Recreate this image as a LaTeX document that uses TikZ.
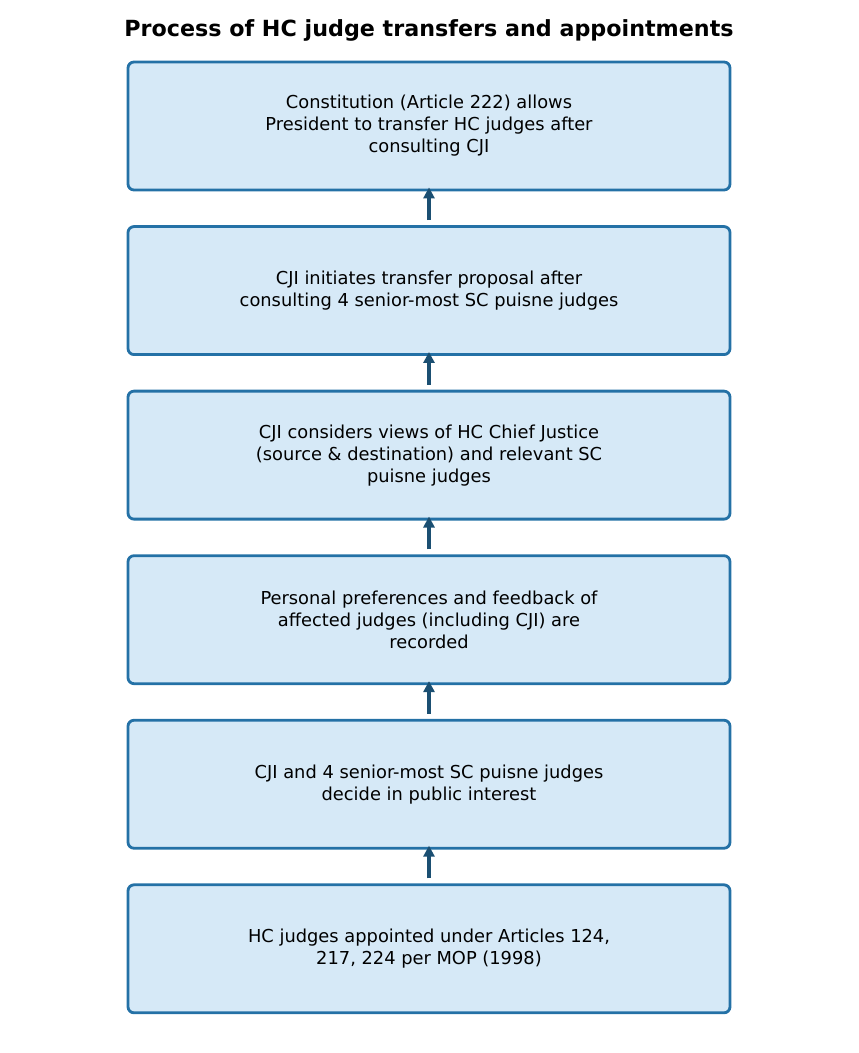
\documentclass[tikz,border=0pt]{standalone}
\usepackage{fontspec}
\setmainfont{DejaVu Sans}
\usetikzlibrary{positioning,arrows.meta}
\definecolor{boxfill}{HTML}{D6E9F7}
\definecolor{boxline}{HTML}{2471A6}
\definecolor{arrowline}{HTML}{1B4F72}
\begin{document}
\begin{tikzpicture}[
  stage/.style={draw=boxline, fill=boxfill, line width=1.6pt, rounded corners=0.12cm,
    minimum width=12.04cm, minimum height=2.56cm, align=center,
    font=\fontsize{10.15}{12.5}\selectfont},
  flow/.style={-{Triangle[length=0.22cm,width=0.22cm]}, line width=1.8pt, draw=arrowline,
    shorten <=0.1cm, shorten >=-0.08cm},
  node distance=0.675cm]
\def\xC{8.58};
\useasboundingbox (0,0) rectangle (17.16,-21.06);
\node[font=\bfseries\fontsize{12.65}{15}\selectfont] (title) at (\xC,-0.6) {Process of HC judge transfers and appointments};
% stages, top to bottom
\node[stage] (article) at (\xC,-2.52) {Constitution (Article 222) allows\\President to transfer HC judges after\\consulting CJI};
\node[stage, below=of article] (proposal) {CJI initiates transfer proposal after\\consulting 4 senior-most SC puisne judges};
\node[stage, below=of proposal] (views) {CJI considers views of HC Chief Justice\\(source \& destination) and relevant SC\\puisne judges};
\node[stage, below=of views] (prefs) {Personal preferences and feedback of\\affected judges (including CJI) are\\recorded};
\node[stage, below=of prefs] (decide) {CJI and 4 senior-most SC puisne judges\\decide in public interest};
\node[stage, below=of decide] (appoint) {HC judges appointed under Articles 124,\\217, 224 per MOP (1998)};
% arrows point upwards
\foreach \lo/\hi in {proposal/article, views/proposal, prefs/views, decide/prefs, appoint/decide}
  \draw[flow] (\lo.north) -- (\hi.south);
\end{tikzpicture}
\end{document}
